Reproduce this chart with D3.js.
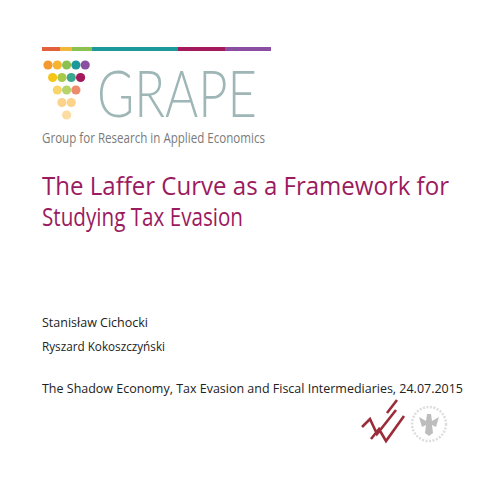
<!DOCTYPE html>
<html><head><meta charset="utf-8">
<script src="https://cdn.jsdelivr.net/npm/d3@7"></script>
<style>body{margin:0;background:#fff}</style></head>
<body><svg id="s" width="480" height="480"></svg>
<script>
// top colour band
var bandEnds = [60, 72, 92, 178, 225, 271];
var bandColors = ["#e2603b", "#f2b73a", "#8cc152", "#1c9a9b", "#a3195b", "#8a4fa0"];
// grape dots, per row
var dotRows = [5, 4, 3, 2, 1];
var dotColors = [
  ["#f39a2e", "#f7b52f", "#8cc152", "#1c9a9b", "#8a4fa0"],
  ["#f5c518", "#a8c94a", "#3aa78f", "#a3195b"],
  ["#f7d56a", "#b7d36a", "#ee8a6e"],
  ["#fbd38a", "#fbd38a"],
  ["#fcdca0"]
];
var titleLines = ["The Laffer Curve as a Framework for", "Studying Tax Evasion"];
var titleWidths = [407, 201];
var authors = ["Stanisław Cichocki", "Ryszard Kokoszczyński"];
var authorWidths = [106, 123];
var eventLine = "The Shadow Economy, Tax Evasion and Fiscal Intermediaries, 24.07.2015";

var svg = d3.select("#s");
var font = "'Open Sans', 'Noto Sans', sans-serif";

var starts = [42].concat(bandEnds.slice(0, -1));
svg.selectAll("rect.band").data(bandEnds).enter().append("rect")
  .attr("x", (d, i) => starts[i]).attr("y", 47).attr("height", 4)
  .attr("width", (d, i) => d - starts[i]).attr("fill", (d, i) => bandColors[i]);

var dx = 9.3, dy = 12.5;
dotRows.forEach(function(n, r) {
  for (var k = 0; k < n; k++) {
    svg.append("circle")
      .attr("cx", 48 + r * dx / 2 + k * dx).attr("cy", 65 + r * dy)
      .attr("r", 4.6).attr("fill", dotColors[r][k]);
  }
});

svg.append("text").attr("x", 97).attr("y", 117).text("GRAPE")
  .attr("font-family", "Lato, sans-serif").attr("font-weight", 300).attr("font-size", 66)
  .attr("fill", "#9fb6b6").attr("textLength", 160).attr("lengthAdjust", "spacingAndGlyphs");
svg.append("text").attr("x", 42).attr("y", 143).text("Group for Research in Applied Economics")
  .attr("font-family", font).attr("font-size", 14).attr("fill", "#7a7a7a")
  .attr("textLength", 223).attr("lengthAdjust", "spacingAndGlyphs");

svg.selectAll("text.title").data(titleLines).enter().append("text")
  .attr("x", 42).attr("y", (d, i) => 195 + i * 31).text(d => d)
  .attr("font-family", font).attr("font-size", 25).attr("fill", "#9b1b5f")
  .attr("textLength", (d, i) => titleWidths[i]).attr("lengthAdjust", "spacingAndGlyphs");

svg.selectAll("text.auth").data(authors).enter().append("text")
  .attr("x", 42).attr("y", (d, i) => 327 + i * 24).text(d => d)
  .attr("font-family", font).attr("font-size", 13).attr("fill", "#222")
  .attr("textLength", (d, i) => authorWidths[i]).attr("lengthAdjust", "spacingAndGlyphs");
svg.append("text").attr("x", 42).attr("y", 393).text(eventLine)
  .attr("font-family", font).attr("font-size", 13).attr("fill", "#222")
  .attr("textLength", 421).attr("lengthAdjust", "spacingAndGlyphs");

// WNE mark
svg.append("path").attr("d", "M362,427 L370,419 L377,434 L396,410 M371,439 L379,429 L386,441 L404,416 M387,413 L397,400")
  .attr("stroke", "#9b2d3a").attr("stroke-width", 2.6).attr("fill", "none");
// university seal
var g = svg.append("g").attr("transform", "translate(429,424)");
g.append("circle").attr("r", 17).attr("fill", "none").attr("stroke", "#ddd").attr("stroke-width", 2.5).attr("stroke-dasharray", "2,1.5");
g.append("path").attr("d", "M-2,-10 L2,-10 L3,-3 L10,-7 L7,3 L3,1 L4,9 L0,12 L-4,9 L-3,1 L-7,3 L-10,-7 L-3,-3 Z")
  .attr("fill", "#bdbdbd");
</script></body></html>
